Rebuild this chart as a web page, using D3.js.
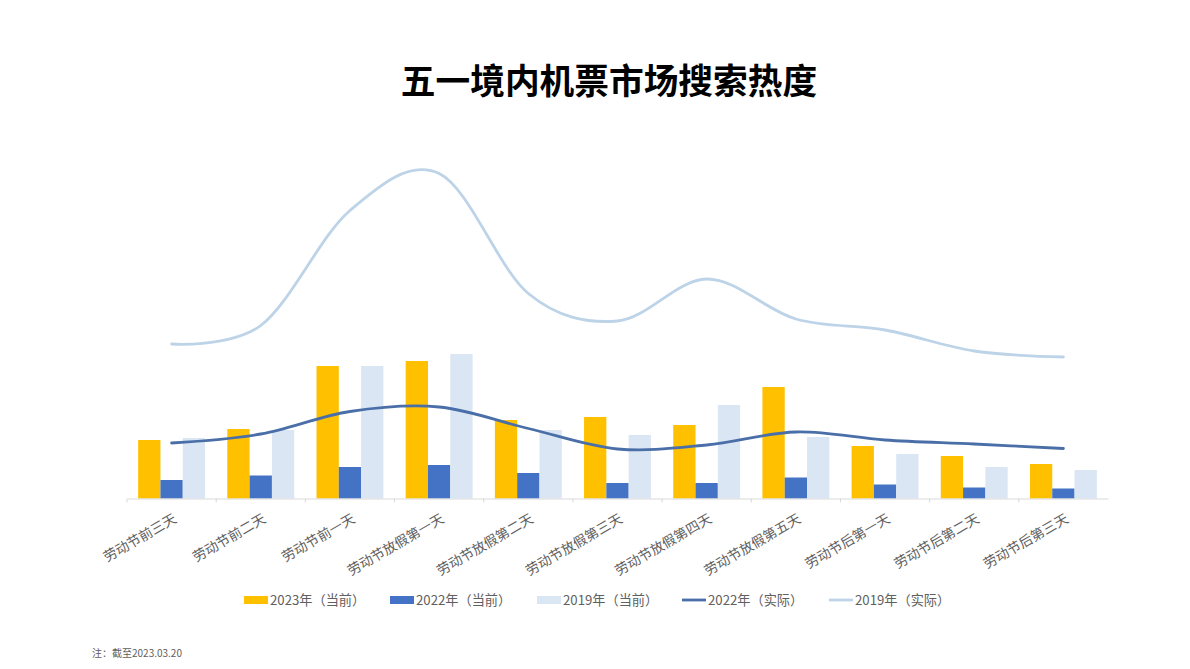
<!DOCTYPE html>
<html lang="zh-CN">
  <head>
    <meta charset="utf-8" />
    <script src="https://d3js.org/d3.v7.min.js"></script>
    <style>
      html, body { margin: 0; background: #fff; }
      text { font-family: "Noto Sans CJK SC", sans-serif; }
    </style>
  </head>

  <body>
    <script>
      const categories = [
        "劳动节前三天", "劳动节前二天", "劳动节前一天", "劳动节放假第一天",
        "劳动节放假第二天", "劳动节放假第三天", "劳动节放假第四天", "劳动节放假第五天",
        "劳动节后第一天", "劳动节后第二天", "劳动节后第三天",
      ];
      // no axis in the original so units are arbitrary
      const bars2023 = [58.5, 69.5, 132.5, 137.5, 78.5, 81.5, 73.5, 111.5, 52.5, 42.5, 34.5];
      const bars2022 = [18.5, 23, 31.5, 33.5, 25.5, 15.5, 15.5, 21, 14, 11, 10];
      const bars2019 = [60.5, 68.5, 132.5, 144.5, 68.5, 63.5, 93.5, 61.5, 44.5, 31.5, 28.5];
      const line2022 = [55.5, 64.5, 87, 91.5, 70, 49.5, 53.5, 66.5, 58.5, 54.5, 50];
      const line2019 = [154.5, 173, 288, 325, 205, 177.5, 219.5, 179.5, 168.5, 147.5, 141.5];

      const colors = { y2023: "#ffc000", y2022: "#4472c4", y2019: "#dae6f3", l2022: "#4a6fa8", l2019: "#bdd3e8" };
      const legendItems = [
        { label: "2023年（当前）", color: colors.y2023, type: "bar", x: 244 },
        { label: "2022年（当前）", color: colors.y2022, type: "bar", x: 390 },
        { label: "2019年（当前）", color: colors.y2019, type: "bar", x: 537 },
        { label: "2022年（实际）", color: colors.l2022, type: "line", x: 682 },
        { label: "2019年（实际）", color: colors.l2019, type: "line", x: 829 },
      ];

      const w = 1190;
      const h = 669;
      const baseline = 498.5;

      const svg = d3.select("body").append("svg").attr("width", w).attr("height", h).style("display", "block");

      svg.append("text")
        .attr("x", 609).attr("y", 94)
        .attr("text-anchor", "middle")
        .attr("font-size", 34.7).attr("font-weight", 700).attr("fill", "#000")
        .text("五一境内机票市场搜索热度");

      const x = d3.scaleBand().domain(categories).range([127, 1108]);
      const y = d3.scaleLinear().domain([0, 350]).range([baseline, baseline - 350]);

      const barW = 22.3;
      const groups = [
        { values: bars2023, color: colors.y2023, offset: -1.5 },
        { values: bars2022, color: colors.y2022, offset: -0.5 },
        { values: bars2019, color: colors.y2019, offset: 0.5 },
      ];

      groups.forEach((g) => {
        svg.append("g").selectAll("rect")
          .data(g.values)
          .join("rect")
          .attr("x", (d, i) => x(categories[i]) + x.bandwidth() / 2 + g.offset * barW)
          .attr("y", (d) => y(d))
          .attr("width", barW)
          .attr("height", (d) => y(0) - y(d))
          .attr("fill", g.color);
      });

      // x axis
      const axis = svg.append("g")
        .attr("transform", `translate(0,${baseline})`)
        .call(d3.axisBottom(x).tickSize(0).tickPadding(0));
      axis.select(".domain").attr("stroke", "#d9d9d9");
      axis.selectAll("text")
        .attr("font-size", 13.6)
        .attr("fill", "#606060")
        .attr("text-anchor", "end")
        .attr("dy", 0)
        .attr("transform", "translate(6,23) rotate(-30)");

      // ticks sit between the categories
      axis.append("g").selectAll("line")
        .data(categories)
        .join("line")
        .attr("x1", (d) => x(d)).attr("x2", (d) => x(d))
        .attr("y1", 0).attr("y2", 4)
        .attr("stroke", "#d9d9d9");

      const line = d3.line()
        .x((d, i) => x(categories[i]) + x.bandwidth() / 2)
        .y((d) => y(d))
        .curve(d3.curveCatmullRom.alpha(0));

      svg.append("path").datum(line2019)
        .attr("d", line).attr("fill", "none")
        .attr("stroke", colors.l2019).attr("stroke-width", 2.8).attr("stroke-linecap", "round");
      svg.append("path").datum(line2022)
        .attr("d", line).attr("fill", "none")
        .attr("stroke", colors.l2022).attr("stroke-width", 2.8).attr("stroke-linecap", "round");

      // legend
      const legend = svg.append("g").selectAll("g")
        .data(legendItems)
        .join("g")
        .attr("transform", (d) => `translate(${d.x},600)`);
      legend.filter((d) => d.type === "bar").append("rect")
        .attr("x", 0).attr("y", -4).attr("width", 24).attr("height", 8)
        .attr("fill", (d) => d.color);
      legend.filter((d) => d.type === "line").append("line")
        .attr("x1", 0).attr("x2", 24).attr("y1", 0).attr("y2", 0)
        .attr("stroke", (d) => d.color).attr("stroke-width", 2.8);
      legend.append("text")
        .attr("x", 26).attr("y", 4.5)
        .attr("font-size", 13.2).attr("fill", "#606060")
        .text((d) => d.label);

      svg.append("text")
        .attr("x", 92).attr("y", 657)
        .attr("font-size", 10).attr("fill", "#606060")
        .text("注：截至2023.03.20");
    </script>
  </body>
</html>
